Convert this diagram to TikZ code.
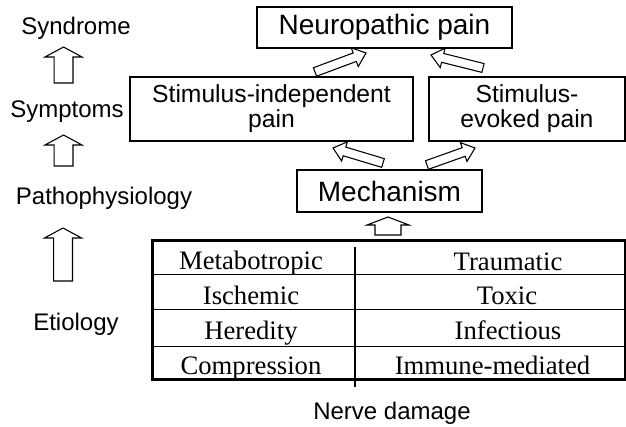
\documentclass[tikz,border=0pt]{standalone}
\usepackage{fontspec}
\setmainfont{Liberation Serif}
\setsansfont{Liberation Sans}
\usetikzlibrary{calc}

% hollow block arrow: tail, tip, half shaft, half head, head length
\newcommand{\hollowarrow}[5]{%
  \coordinate (hb) at ($(#2)!#5!(#1)$);
  \draw[arrowline] ($(#1)!#3!90:(#2)$) -- ($(hb)!#3!-90:(#1)$) -- ($(hb)!#4!-90:(#1)$) -- (#2)
    -- ($(hb)!#4!90:(#1)$) -- ($(hb)!#3!90:(#1)$) -- ($(#1)!#3!-90:(#2)$) -- cycle;
}

\begin{document}
\begin{tikzpicture}[x=0.75pt,y=-0.75pt,
  level/.style={anchor=base,font=\fontsize{18}{20}\selectfont\sffamily},
  box/.style={draw,line width=0.8pt,align=center,inner sep=0pt,font=\fontsize{18.5}{18.75}\selectfont\sffamily},
  bigbox/.style={box,font=\fontsize{21}{22}\selectfont\sffamily},
  cell/.style={anchor=base,font=\fontsize{20}{22}\selectfont},
  arrowline/.style={draw,fill=white,line width=0.8pt,line join=miter}]
\useasboundingbox (0,0) rectangle (626,427);

% levels on the left
\node[level] (synd) at (76,35) {Syndrome};
\node[level] (symp) at (67,118) {Symptoms};
\node[level] (patho) at (104,205) {Pathophysiology};
\node[level] (etio) at (76,331) {Etiology};

\coordinate (s1) at (63.5,83);
\coordinate (t1) at (63.5,47);
\coordinate (s2) at (63.5,166);
\coordinate (t2) at (63.5,135);
\coordinate (s3) at (63,281);
\coordinate (t3) at (63,228);
\hollowarrow{s1}{t1}{7.1pt}{13.9pt}{7.5pt}
\hollowarrow{s2}{t2}{7.1pt}{13.9pt}{7.5pt}
\hollowarrow{s3}{t3}{7.1pt}{13.9pt}{7.5pt}

% boxes
\node[bigbox,minimum width=191.25pt,minimum height=30.75pt] (neuro) at (384.5,27.5) {Neuropathic pain};
\node[box,minimum width=212.25pt,minimum height=48pt] (indep) at (271.5,109) {Stimulus-independent\\pain};
\node[box,minimum width=147pt,minimum height=48pt] (evoked) at (527,109) {Stimulus-\\evoked pain};
\node[bigbox,minimum width=138.75pt,minimum height=31.5pt] (mech) at (389.5,191) {Mechanism};

\coordinate (a1) at (315,72);
\coordinate (b1) at (366,53);
\coordinate (a2) at (483,68);
\coordinate (b2) at (431,55);
\coordinate (a3) at (383,163);
\coordinate (b3) at (333,148);
\coordinate (a4) at (427,165);
\coordinate (b4) at (475,148);
\hollowarrow{a1}{b1}{3.4pt}{7.5pt}{9pt}
\hollowarrow{a2}{b2}{3.4pt}{7.5pt}{9pt}
\hollowarrow{a3}{b3}{3.4pt}{7.5pt}{9pt}
\hollowarrow{a4}{b4}{3.4pt}{7.5pt}{9pt}

\coordinate (m0) at (388,235);
\coordinate (m1) at (388,217);
\hollowarrow{m0}{m1}{9.75pt}{15.75pt}{6pt}

% table of causes
\node[draw,line width=2.25pt,minimum width=354.75pt,minimum height=104.25pt,inner sep=0pt] (tbl) at (388.5,310.5) {};
\foreach \f in {0.245,0.496,0.755}
  \draw[line width=0.8pt] ($(tbl.north west)!\f!(tbl.south west)$) -- ($(tbl.north east)!\f!(tbl.south east)$);
\coordinate (c0) at (355,247);
\coordinate (c1) at (355,387);
\draw[line width=0.8pt] (c0) -- (c1);

\node[cell] (metab) at (251,270) {Metabotropic};
\node[cell] (isch) at (251,305) {Ischemic};
\node[cell] (hered) at (251,340) {Heredity};
\node[cell] (compr) at (251,375) {Compression};
\node[cell] (traum) at (508,271) {Traumatic};
\node[cell] (toxic) at (507,305) {Toxic};
\node[cell] (infec) at (508,340) {Infectious};
\node[cell] (immun) at (492.5,375) {Immune-mediated};

\node[level] (nerve) at (392,420) {Nerve damage};
\end{tikzpicture}
\end{document}
